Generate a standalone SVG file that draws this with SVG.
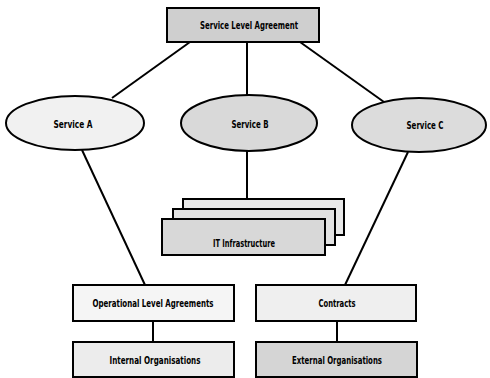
<svg xmlns="http://www.w3.org/2000/svg" width="490" height="378" viewBox="0 0 490 378">
<style>
.bx{stroke:#000;stroke-width:2}
.ln{stroke:#000;stroke-width:2;fill:none}
.t{font-family:"DejaVu Sans Condensed","Liberation Sans Narrow","Liberation Sans",sans-serif;font-weight:bold;font-size:11px;fill:#000;text-anchor:middle}
</style>
<rect width="490" height="378" fill="#fff"/>
<g id="connectors">
<line class="ln" x1="190" y1="42" x2="112" y2="98"/>
<line class="ln" x1="247" y1="42" x2="247" y2="96"/>
<line class="ln" x1="300" y1="42" x2="384" y2="102"/>
<line class="ln" x1="82" y1="150" x2="145" y2="285"/>
<line class="ln" x1="247" y1="151" x2="247" y2="199"/>
<line class="ln" x1="408" y1="152" x2="345" y2="285"/>
<line class="ln" x1="153" y1="321" x2="153" y2="342"/>
<line class="ln" x1="337" y1="321" x2="337" y2="342"/>
</g>
<g id="sla">
<rect class="bx" x="167" y="8" width="152" height="34" fill="#cfcfcf"/>
<text class="t" x="249" y="29" textLength="98" lengthAdjust="spacingAndGlyphs">Service Level Agreement</text>
</g>
<g id="serviceA">
<ellipse class="bx" cx="75" cy="123" rx="69" ry="27" fill="#f1f1f1"/>
<text class="t" x="73" y="128" textLength="39" lengthAdjust="spacingAndGlyphs">Service A</text>
</g>
<g id="serviceB">
<ellipse class="bx" cx="249" cy="123" rx="68" ry="28" fill="#d9d9d9"/>
<text class="t" x="250" y="128" textLength="37" lengthAdjust="spacingAndGlyphs">Service B</text>
</g>
<g id="serviceC">
<ellipse class="bx" cx="419" cy="125" rx="67" ry="27" fill="#dcdcdc"/>
<text class="t" x="425" y="129" textLength="37" lengthAdjust="spacingAndGlyphs">Service C</text>
</g>
<g id="itinfra">
<rect class="bx" x="183" y="199" width="161" height="36" fill="#e8e8e8"/>
<rect class="bx" x="173" y="209" width="162" height="36" fill="#e2e2e2"/>
<rect class="bx" x="162" y="219" width="163" height="36" fill="#d8d8d8"/>
<text class="t" x="244" y="247" textLength="62" lengthAdjust="spacingAndGlyphs">IT Infrastructure</text>
</g>
<g id="ola">
<rect class="bx" x="73" y="285" width="161" height="36" fill="#f5f5f5"/>
<text class="t" x="153" y="307" textLength="121" lengthAdjust="spacingAndGlyphs">Operational Level Agreements</text>
</g>
<g id="internal">
<rect class="bx" x="73" y="342" width="161" height="35" fill="#ececec"/>
<text class="t" x="155" y="364" textLength="91" lengthAdjust="spacingAndGlyphs">Internal Organisations</text>
</g>
<g id="contracts">
<rect class="bx" x="256" y="285" width="160" height="36" fill="#efefef"/>
<text class="t" x="337" y="307" textLength="37" lengthAdjust="spacingAndGlyphs">Contracts</text>
</g>
<g id="external">
<rect class="bx" x="256" y="342" width="161" height="35" fill="#d5d5d5"/>
<text class="t" x="337" y="364" textLength="90" lengthAdjust="spacingAndGlyphs">External Organisations</text>
</g>
</svg>
